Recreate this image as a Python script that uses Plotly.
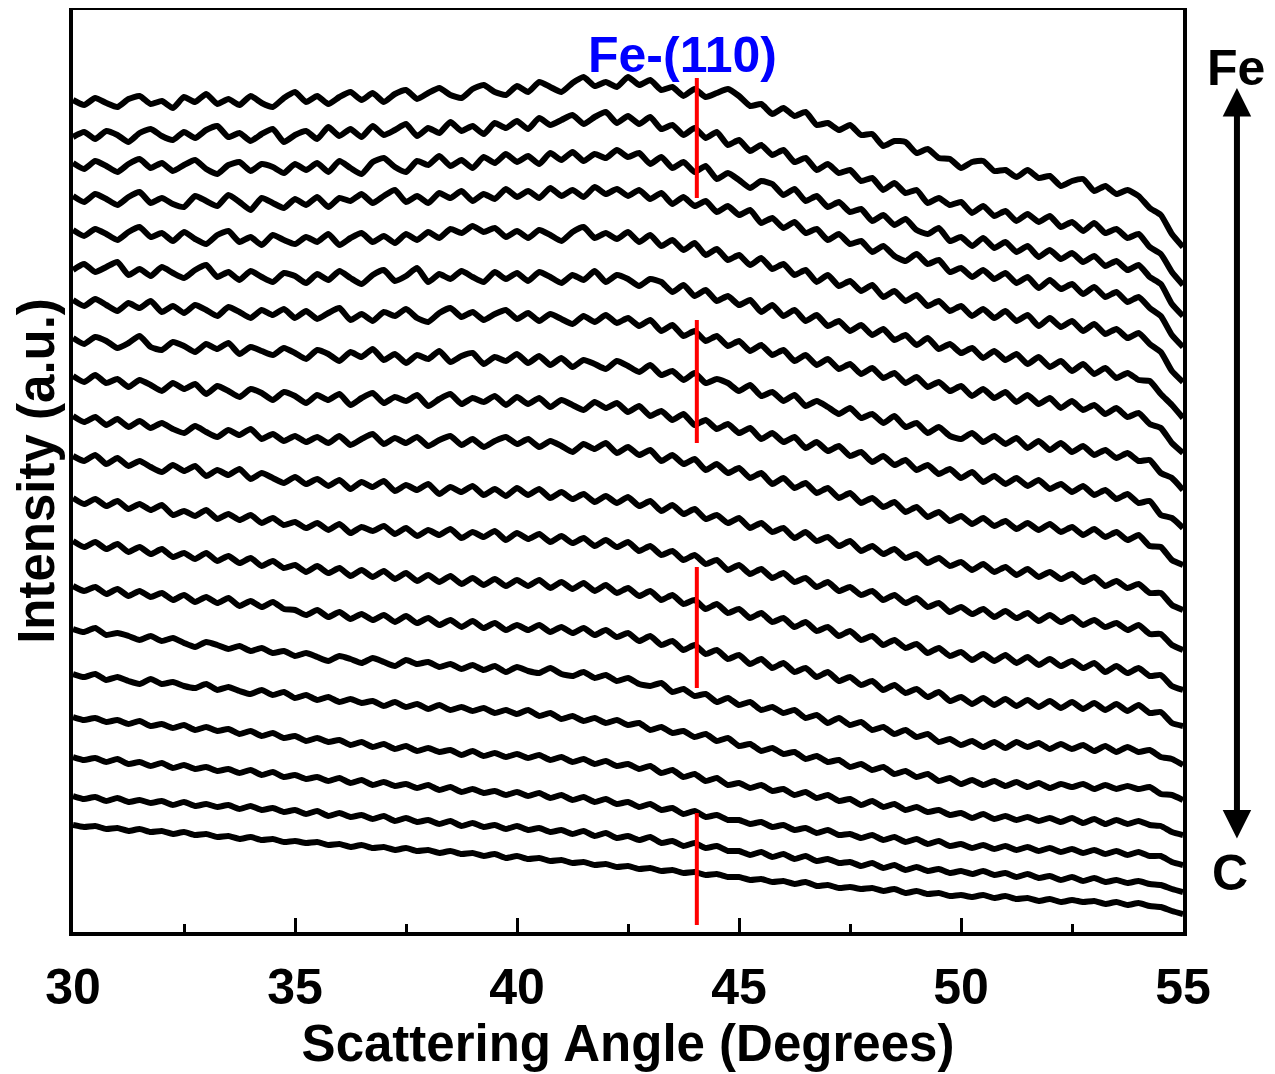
import plotly.graph_objects as go

# ---- data ----------------------------------------------------------------
scan_start = 30.0          # degrees
scan_step = 0.25           # degrees per point
n_points = 101
angles = [scan_start + i * scan_step for i in range(n_points)]

# Intensity (a.u., offset stacked) of each scan, top (Fe-rich) to bottom (C-rich)
scan_01 = [832,827,834,829,825,833,836,828,831,824,835,830,838,828,833,827,836,829,825,834,
           840,830,836,828,835,840,832,839,830,838,842,833,839,844,837,834,843,847,840,837,
           846,840,850,845,840,849,855,846,850,845,855,847,852,842,845,836,843,835,839,843,
           836,826,828,818,824,816,820,807,809,802,807,797,798,786,791,790,779,783,774,773,
           764,770,771,761,762,755,762,754,756,746,751,753,741,746,738,742,736,724,717,698,685]
scan_02 = [795,800,793,801,797,790,799,803,796,792,800,794,802,806,795,799,791,798,803,790,
           797,801,793,805,796,803,795,806,797,802,808,796,804,799,810,801,806,798,809,804,
           811,803,814,807,812,817,808,815,820,809,816,808,815,803,807,797,804,794,800,787,
           792,781,787,777,782,770,774,762,768,759,762,751,754,742,749,739,742,729,734,727,
           730,719,726,716,721,711,718,710,716,705,710,701,709,699,703,694,698,685,678,660,647]
scan_03 = [769,763,771,766,760,768,773,764,769,761,767,772,763,758,767,770,761,768,765,759,
           768,762,769,760,771,764,758,770,774,765,760,771,767,776,766,772,764,775,769,778,
           770,776,768,779,772,780,771,778,774,782,775,779,768,775,764,770,760,766,753,759,
           752,744,751,748,737,743,731,736,725,730,720,723,711,717,707,713,702,698,704,691,
           695,686,694,684,690,680,686,675,682,673,679,670,676,666,671,662,667,655,648,628,616]
scan_04 = [736,730,738,733,727,735,740,729,734,728,725,736,731,726,737,730,722,734,729,724,
           733,727,735,725,734,731,738,729,736,742,730,736,729,739,734,741,731,738,733,743,
           735,741,734,744,736,742,735,745,738,743,736,742,733,739,728,735,726,731,720,726,
           717,722,709,714,704,710,699,703,692,698,688,691,680,686,676,671,678,668,672,660,
           664,655,662,653,659,649,655,644,652,643,648,638,645,635,640,630,635,624,616,597,585]
scan_05 = [702,696,703,698,692,700,705,695,699,691,700,693,688,697,701,690,695,687,697,692,
           688,695,690,698,687,694,699,690,696,689,698,692,700,694,703,699,706,700,704,695,
           701,694,702,697,691,700,705,694,699,693,700,690,697,686,692,682,689,677,683,672,
           677,667,674,663,668,657,662,650,657,646,651,641,647,635,641,631,637,626,631,621,
           626,616,623,614,621,611,617,606,614,605,611,601,608,598,603,594,599,588,580,561,550]
scan_06 = [662,668,660,665,670,657,663,656,665,659,654,662,667,655,660,652,661,655,650,659,
           656,649,658,652,661,654,648,657,662,651,656,664,650,658,653,661,655,650,660,653,
           659,651,660,655,649,657,652,661,650,657,653,646,653,650,640,647,636,642,631,636,
           627,632,620,627,616,622,611,617,606,611,601,607,597,603,592,597,587,594,583,588,
           579,584,574,581,572,578,568,575,565,571,561,568,558,564,554,559,552,551,538,527,514]
scan_07 = [632,626,633,627,621,629,624,631,620,626,619,627,622,616,625,620,614,622,617,623,
           614,621,613,619,624,612,618,611,620,616,623,614,610,619,624,615,620,612,618,622,
           613,619,611,618,613,608,616,610,617,609,614,606,612,601,607,596,601,591,596,586,
           591,581,587,577,582,571,577,567,573,563,568,558,564,554,559,549,555,545,550,541,
           546,536,543,534,540,530,537,528,534,524,531,522,527,518,524,515,519,508,504,489,479]
scan_08 = [594,588,595,591,584,589,596,585,582,590,586,580,588,583,589,578,585,581,577,584,
           579,573,582,578,571,580,575,583,572,578,569,577,573,581,570,576,579,568,575,571,
           578,569,576,567,574,565,572,568,563,571,566,560,567,557,561,552,559,549,553,549,
           541,547,536,540,531,537,526,531,525,518,524,514,518,509,516,505,509,499,505,496,
           493,499,490,496,488,494,484,491,482,489,480,486,477,482,474,479,471,472,459,454,442]
scan_09 = [556,550,557,549,553,545,552,547,541,549,543,548,538,546,541,535,543,539,532,540,
           536,529,537,532,538,527,534,539,529,535,531,537,526,533,538,528,534,530,536,527,
           535,528,534,525,532,527,522,530,524,529,520,526,516,521,512,518,507,512,503,508,
           499,504,493,499,490,495,484,490,481,486,476,480,470,476,467,472,462,467,458,463,
           454,460,450,456,448,454,446,452,443,448,440,446,437,442,433,438,429,431,417,414,404]
scan_10 = [516,510,515,507,513,505,511,504,509,503,499,506,500,495,502,497,503,493,498,491,
           496,490,495,489,496,487,493,498,488,494,489,495,486,492,496,487,493,485,491,495,
           488,493,485,491,486,480,488,483,489,479,485,477,482,471,477,468,473,462,468,459,
           464,454,459,448,454,444,449,439,444,434,439,429,434,425,430,420,425,415,420,411,
           416,408,414,406,411,403,409,402,408,400,405,397,403,395,400,392,397,386,385,372,367]
scan_11 = [476,471,477,468,474,466,471,465,460,467,461,466,456,462,457,463,453,459,454,449,
           455,448,453,446,452,443,450,445,451,441,447,442,448,438,445,440,446,437,443,436,
           444,437,443,434,440,433,438,430,436,429,435,426,431,421,427,418,423,413,417,409,
           414,404,409,400,404,394,400,391,395,386,391,381,386,378,383,374,378,369,374,366,
           370,362,368,360,365,357,363,355,360,353,358,350,355,346,351,344,348,339,339,327,322]
scan_12 = [434,428,433,426,431,423,428,422,427,417,421,416,422,413,418,412,417,409,414,407,
           410,404,409,402,408,399,405,401,406,398,404,396,402,397,403,394,400,395,401,392,
           399,393,398,390,396,389,394,386,392,385,390,381,386,377,381,372,377,368,372,362,
           367,358,363,354,359,350,354,345,350,341,345,337,341,332,337,329,334,325,329,320,
           325,318,323,315,321,314,319,311,317,310,315,307,312,305,309,302,307,298,298,287,282]
scan_13 = [391,385,390,383,388,380,385,378,383,375,379,373,379,371,376,369,374,366,371,364,
           367,360,366,359,364,356,362,355,361,353,359,351,357,350,356,348,354,347,353,346,
           352,346,352,344,350,343,349,341,347,339,344,336,341,332,337,328,332,323,328,319,
           323,314,319,310,314,305,310,301,305,296,301,292,296,287,292,284,288,279,284,276,
           280,272,278,271,277,269,275,267,273,266,271,264,269,260,266,259,264,256,257,246,242]
scan_14 = [346,341,345,338,343,336,341,335,339,332,337,330,335,329,334,326,331,325,330,323,
           322,317,322,315,320,313,318,312,317,310,316,309,314,307,312,305,311,304,309,302,
           307,302,307,300,305,299,304,297,302,295,299,291,296,287,291,282,287,278,282,273,
           277,268,273,264,269,260,264,255,260,251,255,247,251,242,247,239,243,235,240,231,
           235,228,234,227,233,226,232,225,231,224,230,223,229,222,228,221,227,219,220,209,206]
scan_15 = [303,300,304,297,299,296,292,296,291,294,289,285,290,287,283,286,281,284,279,281,
           276,279,275,271,276,273,269,274,270,266,272,268,270,265,268,263,267,262,266,260,
           265,261,259,264,258,256,260,254,257,251,254,248,246,249,240,243,236,238,230,234,
           227,230,222,225,219,222,214,217,209,214,207,210,202,205,198,202,195,198,190,193,
           187,191,185,190,184,190,185,189,183,188,183,187,181,186,180,185,180,182,175,173,167]
scan_16 = [258,255,258,252,255,251,248,253,248,250,246,244,248,242,245,241,238,242,237,240,
           234,237,232,235,230,233,229,231,226,230,225,228,223,227,222,225,221,224,219,222,
           218,222,216,219,213,216,211,214,209,212,207,209,202,205,199,201,195,198,191,194,
           186,188,181,184,178,180,173,176,170,172,165,168,162,165,158,161,155,158,151,154,
           148,152,147,151,146,150,145,149,144,148,145,148,143,147,143,146,143,145,138,137,132]
scan_17 = [215,212,214,210,212,208,211,206,208,204,207,202,205,201,203,198,201,196,199,194,
           196,191,194,190,192,187,190,185,188,183,186,181,184,180,182,177,181,176,179,175,
           178,174,177,172,175,170,173,168,171,166,168,163,166,159,162,155,158,151,154,147,
           149,144,147,141,143,137,140,134,137,131,133,127,131,125,128,122,125,120,122,117,
           119,114,118,113,116,112,115,111,114,110,114,109,113,108,112,108,111,107,106,100,97]
scan_18 = [175,172,174,170,173,168,170,166,169,164,167,163,165,161,163,159,162,157,160,155,
           157,153,155,151,154,149,152,147,150,146,148,144,147,142,145,140,143,139,141,137,
           140,136,139,134,137,132,135,130,133,128,130,125,128,122,124,118,121,115,117,112,
           112,108,110,105,107,102,104,99,102,97,98,94,97,92,95,90,93,88,91,86,
           88,84,87,83,86,82,85,81,84,80,83,79,82,78,81,77,80,76,76,70,67]
scan_19 = [136,133,135,131,134,130,132,129,131,127,130,126,128,125,127,123,126,122,124,120,
           122,118,121,116,119,115,117,113,116,111,114,110,112,108,111,106,109,105,107,103,
           106,102,104,100,102,98,101,96,99,94,96,92,95,89,91,86,89,84,86,81,
           81,77,80,75,78,73,76,71,73,69,70,66,69,64,67,62,65,61,63,59,
           61,58,61,57,59,55,58,54,56,52,55,51,54,50,52,49,51,48,47,43,40]
scan_20 = [107,105,106,103,104,101,103,100,101,98,100,97,98,95,96,93,95,92,93,90,
           91,89,90,87,88,85,87,84,85,82,84,81,82,79,81,78,79,76,78,74,
           76,73,74,71,72,69,70,67,68,65,66,63,64,61,62,59,60,57,58,55,
           55,52,53,50,51,48,50,46,47,44,45,43,44,41,43,39,41,38,39,36,
           37,35,37,34,36,33,34,31,33,30,32,30,31,28,30,27,29,26,25,21,18]

scans = [scan_01, scan_02, scan_03, scan_04, scan_05, scan_06, scan_07, scan_08, scan_09, scan_10,
         scan_11, scan_12, scan_13, scan_14, scan_15, scan_16, scan_17, scan_18, scan_19, scan_20]

# Fe-(110) reference position and the intensity spans of its red markers
fe110_angle = 44.05
fe110_spans = [[734, 854], [489, 612], [244, 365], [7, 119]]

x_ticks = [30, 35, 40, 45, 50, 55]
x_tick_labels = ["30", "35", "40", "45", "50", "55"]
y_range = [0, 922]

# ---- figure --------------------------------------------------------------
FONT = "Liberation Sans, Arial, Helvetica, sans-serif"
fig = go.Figure()

for s in scans:
    fig.add_trace(go.Scatter(
        x=angles, y=s, mode="lines",
        line=dict(color="black", width=6, shape="spline", smoothing=0.5),
        hoverinfo="skip", showlegend=False))

rx, ry = [], []
for lo, hi in fe110_spans:
    rx += [fe110_angle, fe110_angle, None]
    ry += [lo, hi, None]
fig.add_trace(go.Scatter(x=rx, y=ry, mode="lines",
                         line=dict(color="#ff0000", width=4),
                         hoverinfo="skip", showlegend=False))

# the page body adds an 8 px margin, so the figure is 8 px smaller each way
fig.update_layout(
    width=1267, height=1066,
    margin=dict(l=65, r=92, t=2, b=142),
    plot_bgcolor="white", paper_bgcolor="white",
    showlegend=False,
    font=dict(family=FONT, color="black"),
)

fig.update_xaxes(
    range=[30, 55], tickvals=x_ticks, ticktext=x_tick_labels,
    ticks="inside", ticklen=14, tickwidth=2.5, tickcolor="black",
    minor=dict(ticks="inside", ticklen=8, tickwidth=2.5, dtick=2.5, tick0=30, tickcolor="black"),
    showline=True, linewidth=3.5, linecolor="black", mirror=True,
    showgrid=False, zeroline=False, automargin=False,
    tickfont=dict(family=FONT, size=50, color="black", weight="bold"),
    ticklabelstandoff=8,
    title=dict(text="Scattering Angle (Degrees)",
               font=dict(family=FONT, size=51, color="black", weight="bold"),
               standoff=6),
)
fig.update_yaxes(
    range=y_range, showticklabels=False, ticks="",
    showline=True, linewidth=3.5, linecolor="black", mirror=True,
    showgrid=False, zeroline=False, automargin=False,
    title=dict(text="Intensity (a.u.)",
               font=dict(family=FONT, size=51, color="black", weight="bold"),
               standoff=6),
)

# Fe-(110) label
fig.add_annotation(text="Fe-(110)", xref="paper", yref="paper", x=0.5495, y=0.951,
                   showarrow=False, xanchor="center", yanchor="middle",
                   font=dict(family=FONT, size=50, color="#0000ff", weight="bold"))
# composition arrow Fe <-> C
fig.add_annotation(text="", xref="paper", yref="paper", x=1.0486, y=0.9154,
                   axref="pixel", ayref="pixel", ax=0, ay=752,
                   showarrow=True, arrowhead=2, startarrowhead=2, arrowside="end+start",
                   arrowwidth=6, arrowsize=0.95, startarrowsize=0.95, arrowcolor="black",
                   standoff=0, startstandoff=0)
fig.add_annotation(text="Fe", xref="paper", yref="paper", x=1.0477, y=0.937,
                   showarrow=False, xanchor="center", yanchor="middle",
                   font=dict(family=FONT, size=50, color="black", weight="bold"))
fig.add_annotation(text="C", xref="paper", yref="paper", x=1.0423, y=0.064,
                   showarrow=False, xanchor="center", yanchor="middle",
                   font=dict(family=FONT, size=50, color="black", weight="bold"))

fig.write_html("out.html")
